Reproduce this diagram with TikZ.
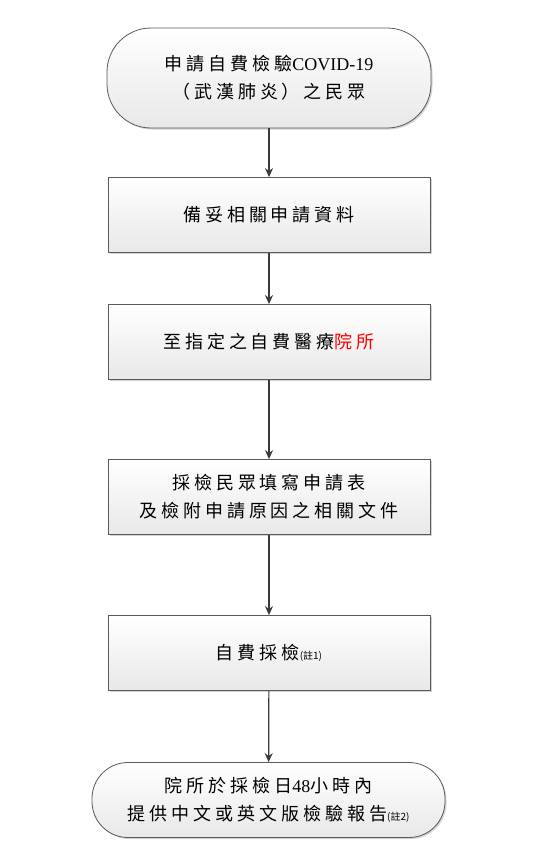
\documentclass[tikz,border=0pt]{standalone}
\usepackage{fontspec}
\setmainfont{Liberation Serif}
\newfontfamily\cjk[LetterSpace=22]{Noto Sans CJK TC}
\newfontfamily\cjknote{Noto Sans CJK TC}
\newfontfamily\latin{Liberation Serif}
\newcommand\smallnote[1]{{\cjknote\fontsize{10}{12}\selectfont #1}}
\newcommand\lat[1]{{\latin #1}}
\usetikzlibrary{shadows,arrows.meta}
\definecolor{bordergray}{HTML}{5A5A5A}
\definecolor{arrowgray}{HTML}{3A3A3A}
\tikzset{
  boxbase/.style={draw=bordergray, line width=0.8pt, top color=white, bottom color=black!9,
    drop shadow={shadow xshift=1.5pt, shadow yshift=-1.5pt, opacity=0.35, fill=black!50},
    align=center, font=\cjk\fontsize{18}{28}\selectfont, inner sep=0pt},
  procbox/.style={boxbase, rectangle, minimum width=322pt, minimum height=75pt},
  termbox/.style={boxbase, rectangle, rounded corners=44pt},
  flow/.style={draw=arrowgray, line width=1.2pt, -{Stealth[length=9pt,width=8pt]}}
}
\begin{document}
\begin{tikzpicture}[x=1pt,y=-1pt]
\useasboundingbox (0,0) rectangle (546,862);
\node[termbox, minimum width=324pt, minimum height=100pt] (start) at (269,78)
  {申請自費檢驗\lat{COVID-19}\\（武漢肺炎）之民眾};
\node[procbox] (prep) at (269,215) {備妥相關申請資料};
\node[procbox] (goto) at (269,342) {至指定之自費醫療\textcolor{red}{院所}};
\node[procbox] (fill) at (269,497) {採檢民眾填寫申請表\\及檢附申請原因之相關文件};
\node[procbox] (test) at (269,653) {自費採檢\smallnote{(註1)}};
\node[termbox, minimum width=353pt, minimum height=75pt, rounded corners=36pt] (report) at (268.5,800)
  {院所於採檢日\lat{48}小時內\\提供中文或英文版檢驗報告\smallnote{(註2)}};
\draw[flow] (start) -- (prep);
\draw[flow] (prep) -- (goto);
\draw[flow] (goto) -- (fill);
\draw[flow] (fill) -- (test);
\draw[flow] (test) -- (report);
\end{tikzpicture}
\end{document}
